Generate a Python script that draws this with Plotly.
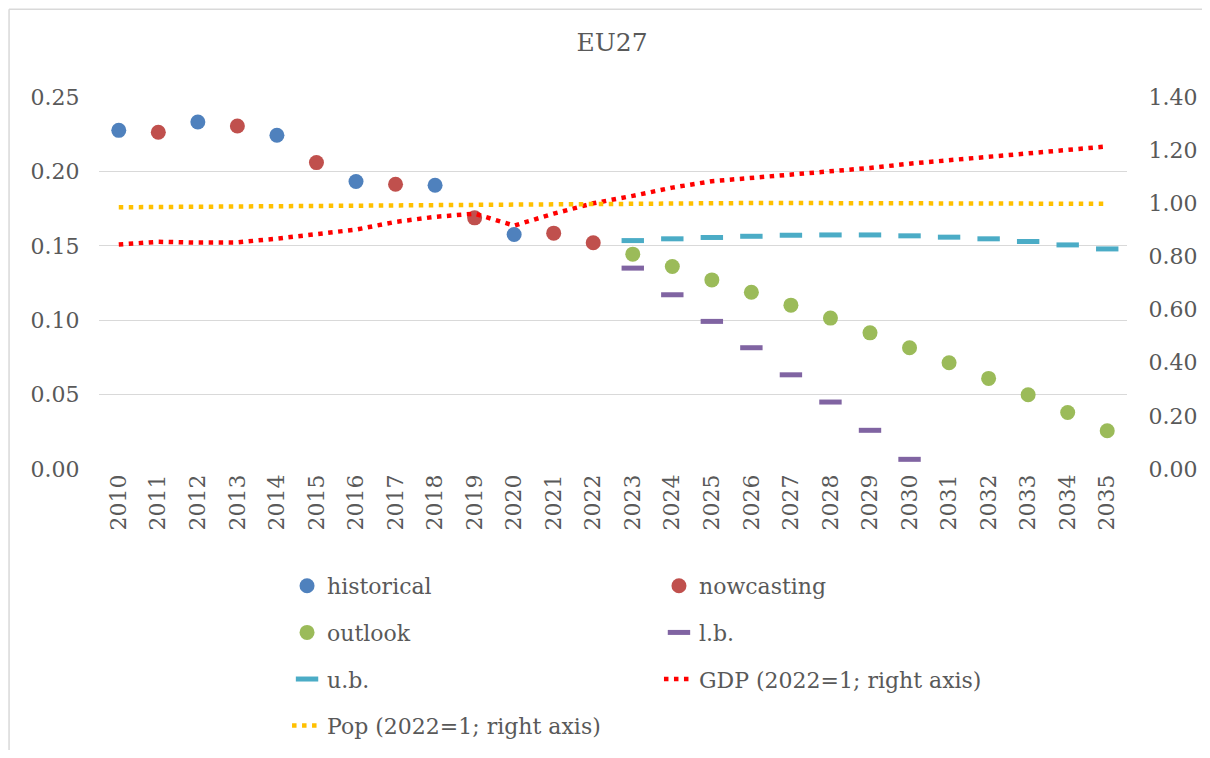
import plotly.graph_objects as go

years = [str(y) for y in range(2010, 2036)]

hist_years = ["2010", "2012", "2014", "2016", "2018", "2020"]
hist_vals = [0.2276, 0.2332, 0.2243, 0.1932, 0.1907, 0.1576]

now_years = ["2011", "2013", "2015", "2017", "2019", "2021", "2022"]
now_vals = [0.2263, 0.2305, 0.2059, 0.1914, 0.1688, 0.1585, 0.1520]

fut_years = [str(y) for y in range(2023, 2036)]
outlook_vals = [0.1444, 0.1361, 0.1271, 0.1188, 0.1101, 0.1014, 0.0915,
                0.0815, 0.0714, 0.0609, 0.0499, 0.0380, 0.0257]

lb_years = [str(y) for y in range(2023, 2031)]
lb_vals = [0.1350, 0.1171, 0.0992, 0.0815, 0.0633, 0.0450, 0.0260, 0.0065]

ub_vals = [0.1535, 0.1547, 0.1556, 0.1564, 0.1571, 0.1573, 0.1573,
           0.1567, 0.1558, 0.1547, 0.1529, 0.1506, 0.1479]

gdp_vals = [0.845, 0.855, 0.852, 0.853, 0.867, 0.886, 0.901, 0.930, 0.949,
            0.961, 0.916, 0.961, 1.000, 1.028, 1.059, 1.083, 1.095, 1.108,
            1.120, 1.133, 1.149, 1.162, 1.174, 1.187, 1.199, 1.214]

pop_vals = [0.985, 0.986, 0.987, 0.988, 0.990, 0.991, 0.993, 0.995, 0.997,
            0.998, 0.999, 0.999, 1.000, 1.001, 1.001, 1.001, 1.001, 1.001,
            1.001, 1.001, 1.001, 1.000, 1.000, 0.999, 0.999, 0.998]

left_ticks = [0.00, 0.05, 0.10, 0.15, 0.20, 0.25]
right_ticks = [0.0, 0.2, 0.4, 0.6, 0.8, 1.0, 1.2, 1.4]

FONT = "DejaVu Serif"
GREY = "#595959"
LEG_FONT = dict(family=FONT, size=22, color=GREY)

fig = go.Figure()

fig.add_trace(go.Scatter(x=hist_years, y=hist_vals, mode="markers", name="historical",
                         marker=dict(color="#4F81BD", size=15), legend="legend",
                         legendgroup="a1"))
fig.add_trace(go.Scatter(x=now_years, y=now_vals, mode="markers", name="nowcasting",
                         marker=dict(color="#C0504D", size=15), legend="legend2",
                         legendgroup="b1"))
fig.add_trace(go.Scatter(x=fut_years, y=outlook_vals, mode="markers", name="outlook",
                         marker=dict(color="#9BBB59", size=15), legend="legend",
                         legendgroup="a2"))
fig.add_trace(go.Scatter(x=lb_years, y=lb_vals, mode="markers", name="l.b.",
                         marker=dict(symbol="line-ew", size=16,
                                     line=dict(color="#8064A2", width=5)),
                         legend="legend2", legendgroup="b2"))
fig.add_trace(go.Scatter(x=fut_years, y=ub_vals, mode="markers", name="u.b.",
                         marker=dict(symbol="line-ew", size=16,
                                     line=dict(color="#4BACC6", width=5)),
                         legend="legend", legendgroup="a3"))
fig.add_trace(go.Scatter(x=years, y=gdp_vals, mode="lines", name="GDP (2022=1; right axis)",
                         line=dict(color="#FF0000", width=4.5, dash="4.5px,5.5px"),
                         yaxis="y2", legend="legend2", legendgroup="b3"))
fig.add_trace(go.Scatter(x=years, y=pop_vals, mode="lines", name="Pop (2022=1; right axis)",
                         line=dict(color="#FFC000", width=4.5, dash="4.5px,5.5px"),
                         yaxis="y2", legend="legend", legendgroup="a4"))

fig.update_layout(
    width=1194, height=742,
    margin=dict(l=91, r=75, t=89, b=281, autoexpand=False),
    paper_bgcolor="white", plot_bgcolor="white",
    title=dict(text="EU27", x=0.5059, xref="container", xanchor="center",
               y=0.9542, yanchor="middle",
               font=dict(family=FONT, size=25, color=GREY)),
    showlegend=True,
    xaxis=dict(type="category", categoryorder="array", categoryarray=years,
               range=[-0.5, len(years) - 0.5],
               tickvals=years, ticktext=years, tickangle=-90, automargin=False,
               tickfont=dict(family=FONT, size=22, color=GREY),
               showgrid=False, showline=False, ticks="", zeroline=False),
    yaxis=dict(range=[0, 0.25], tickvals=left_ticks, automargin=False,
               ticktext=[f"{v:.2f}" for v in left_ticks],
               tickfont=dict(family=FONT, size=22, color=GREY),
               gridcolor="#D9D9D9", gridwidth=1, zeroline=False, showline=False,
               ticks="outside", ticklen=14, tickcolor="rgba(0,0,0,0)"),
    yaxis2=dict(range=[0, 1.4], overlaying="y", side="right", tickvals=right_ticks,
                ticktext=[f"{v:.2f}" for v in right_ticks], automargin=False,
                tickfont=dict(family=FONT, size=22, color=GREY),
                showgrid=False, zeroline=False, showline=False,
                ticks="outside", ticklen=16, tickcolor="rgba(0,0,0,0)"),
    legend=dict(orientation="v", xref="container", yref="container",
                x=0.2337, xanchor="left", y=0.2493, yanchor="top",
                font=LEG_FONT, tracegroupgap=15, bgcolor="rgba(0,0,0,0)"),
    legend2=dict(orientation="v", xref="container", yref="container",
                 x=0.5452, xanchor="left", y=0.2493, yanchor="top",
                 font=LEG_FONT, tracegroupgap=15, bgcolor="rgba(0,0,0,0)"),
    shapes=[
        dict(type="line", xref="paper", yref="paper", x0=-0.0875, x1=-0.0875,
             y0=-0.85, y1=1.236, line=dict(color="#D9D9D9", width=1.5)),
        dict(type="line", xref="paper", yref="paper", x0=-0.0875, x1=1.2,
             y0=1.236, y1=1.236, line=dict(color="#D9D9D9", width=1.5)),
    ],
)

fig.write_html("out.html")
